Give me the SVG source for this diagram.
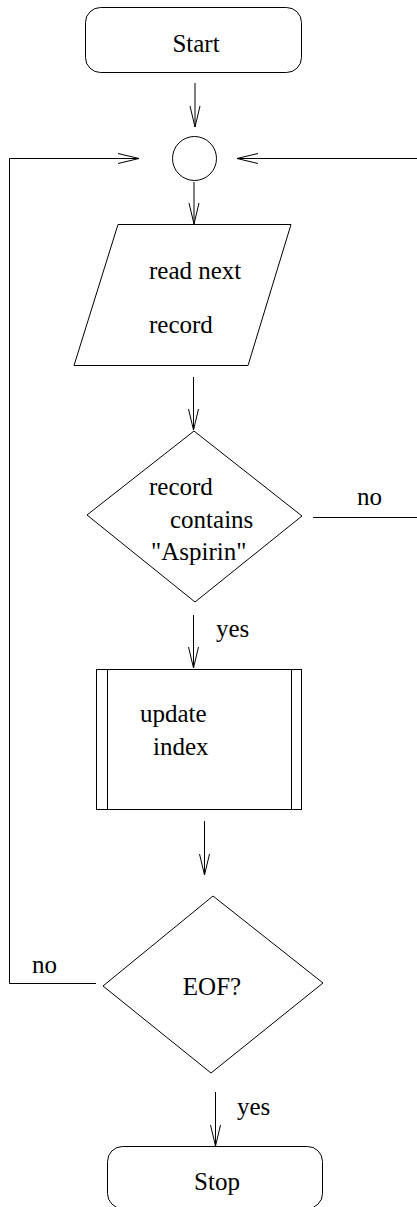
<svg xmlns="http://www.w3.org/2000/svg" width="417" height="1207" viewBox="0 0 417 1207">
<style>
.s{fill:#fff;stroke:#000;stroke-width:1}
.c{fill:none;stroke:#000;stroke-width:1}
.t{font-family:'Liberation Serif','DejaVu Serif',serif;font-size:25px;fill:#000}
</style>
<defs>
<marker id="a" markerUnits="userSpaceOnUse" markerWidth="22" markerHeight="12" refX="21" refY="6" orient="auto" overflow="visible">
<path d="M0,1 L21,6 L0,11" fill="none" stroke="#000" stroke-width="1"/>
</marker>
</defs>
<rect width="417" height="1207" fill="#fff"/>
<g id="connectors">
<line class="c" x1="195" y1="83" x2="195" y2="127" marker-end="url(#a)"/>
<polyline class="c" points="96,983.5 9.5,983.5 9.5,158.5 139,158.5" marker-end="url(#a)"/>
<line class="c" x1="417" y1="158.5" x2="237" y2="158.5" marker-end="url(#a)"/>
<line class="c" x1="194" y1="182" x2="194" y2="224" marker-end="url(#a)"/>
<line class="c" x1="193.5" y1="377" x2="193.5" y2="430" marker-end="url(#a)"/>
<line class="c" x1="313" y1="517.5" x2="417" y2="517.5"/>
<line class="c" x1="193.5" y1="615" x2="193.5" y2="668" marker-end="url(#a)"/>
<line class="c" x1="204.5" y1="821" x2="204.5" y2="875" marker-end="url(#a)"/>
<line class="c" x1="215.5" y1="1092" x2="215.5" y2="1146" marker-end="url(#a)"/>
<text class="t" x="357" y="505" font-family="Liberation Serif, serif">no</text>
<text class="t" x="216" y="637" font-family="Liberation Serif, serif">yes</text>
<text class="t" x="32" y="973" font-family="Liberation Serif, serif">no</text>
<text class="t" x="237" y="1115" font-family="Liberation Serif, serif">yes</text>
</g>
<g id="start">
<rect class="s" x="85.5" y="7.5" width="216" height="65" rx="15"/>
<text class="t" x="196" y="52" text-anchor="middle">Start</text>
</g>
<g id="junction">
<circle class="s" cx="194.5" cy="158.5" r="22"/>
</g>
<g id="read">
<polygon class="s" points="118,224.5 291,224.5 248,365.5 74,365.5"/>
<text class="t" x="149" y="279">read next</text>
<text class="t" x="149" y="333">record</text>
</g>
<g id="check">
<polygon class="s" points="194,431 302,516 195,602 87,515"/>
<text class="t" x="149" y="495">record</text>
<text class="t" x="170" y="528">contains</text>
<text class="t" x="151" y="560">"Aspirin"</text>
</g>
<g id="update">
<rect class="s" x="96.5" y="669.5" width="205" height="140"/>
<line class="c" x1="107.5" y1="669.5" x2="107.5" y2="809.5"/>
<line class="c" x1="291.5" y1="669.5" x2="291.5" y2="809.5"/>
<text class="t" x="140" y="722">update</text>
<text class="t" x="153" y="755">index</text>
</g>
<g id="eof">
<polygon class="s" points="213,896 323,983 211,1073 103,986"/>
<text class="t" x="212" y="995" text-anchor="middle">EOF?</text>
</g>
<g id="stop">
<rect class="s" x="107.5" y="1146.5" width="215" height="62" rx="15"/>
<text class="t" x="217" y="1190" text-anchor="middle">Stop</text>
</g>
</svg>
